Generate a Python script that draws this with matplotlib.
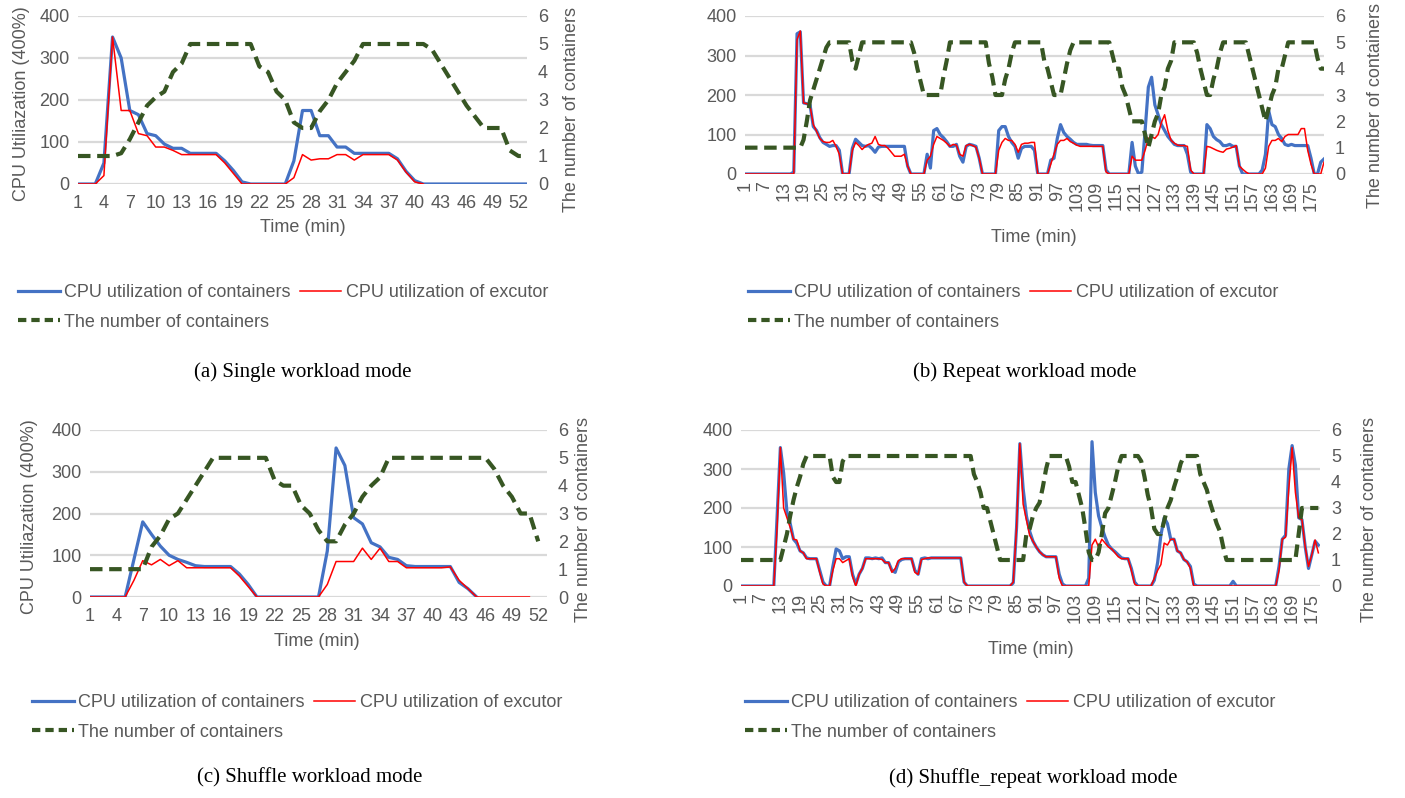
import matplotlib
matplotlib.use("Agg")
import matplotlib.pyplot as plt
from matplotlib.lines import Line2D
import numpy as np

# ---------------- data ----------------
# (a) Single workload mode, minutes 1..53
blue_a = [0, 0, 0, 50, 350, 300, 175, 165, 120, 115, 95, 85, 85, 73, 73, 73, 73, 55, 32, 5,
          0, 0, 0, 0, 0, 55, 175, 175, 115, 115, 88, 88, 73, 73, 73, 73, 73, 60, 30, 8,
          0, 0, 0, 0, 0, 0, 0, 0, 0, 0, 0, 0, 0]
red_a = [0, 0, 0, 20, 350, 175, 175, 120, 115, 88, 88, 80, 70, 70, 70, 70, 70, 50, 25, 0,
         0, 0, 0, 0, 0, 15, 70, 57, 60, 60, 70, 70, 57, 70, 70, 70, 70, 57, 28, 5, 0]
green_a = [1, 1, 1, 1, 1, 1.1, 1.6, 2.2, 2.8, 3.1, 3.3, 4, 4.3, 5, 5, 5, 5, 5, 5, 5,
           5, 4.2, 4, 3.3, 3, 2.2, 2, 2, 2.6, 3, 3.6, 4, 4.4, 5, 5, 5, 5, 5, 5, 5,
           5, 4.8, 4.3, 3.8, 3.3, 2.8, 2.4, 2, 2, 2, 1.2, 1, 1]

# (b) Repeat workload mode, minutes 1..179
blue_b = ([0] * 15
          + [5, 355, 360, 180, 178, 175, 120, 110, 92, 80, 75, 70, 72, 72, 60]
          + [0, 0, 0]
          + [65, 88, 80, 72, 70, 72, 65, 55, 68, 70]
          + [70] * 7
          + [20, 0, 0, 0, 0, 0]
          + [50, 15, 110, 115, 100, 92, 82, 70, 70, 75, 45, 30, 70, 75, 73, 70, 40]
          + [0] * 5
          + [110, 120, 120, 95, 80, 70, 40, 65, 70, 70, 70, 60]
          + [0] * 4
          + [35, 40, 90, 125, 105, 95, 88, 80, 75, 75, 75, 75, 73, 72, 72, 72, 72, 10]
          + [0] * 7
          + [80, 20, 0, 5, 110, 220, 245, 175, 150, 125, 110, 95, 85, 75, 72, 72, 72, 50, 5]
          + [0] * 4
          + [125, 115, 95, 87, 82, 72, 72, 75, 70, 70, 20]
          + [0] * 6
          + [10, 50, 160, 125, 120, 100, 90, 75, 72, 75, 72, 72, 72, 72, 72, 40, 0, 0, 30, 38])
red_b = ([0] * 16
         + [340, 362, 180, 178, 172, 125, 108, 90, 82, 80, 80, 85, 70, 50]
         + [0, 0, 0]
         + [60, 80, 72, 62, 70, 75, 78, 95, 75, 72, 72, 65, 55, 45, 45, 45, 50, 20]
         + [0] * 5
         + [35, 45, 75, 95, 90, 85, 78, 70, 75, 73, 50, 45, 72, 75, 72, 68, 40]
         + [0] * 5
         + [60, 80, 90, 85, 85, 75, 55, 75, 78, 78, 80, 80]
         + [0] * 4
         + [25, 50, 75, 85, 85, 90, 82, 78, 73, 70, 70, 70, 70, 70, 70, 70, 70, 5]
         + [0] * 7
         + [45, 35, 35, 35, 60, 90, 95, 90, 100, 130, 150, 110, 85, 78, 73, 72, 72, 70, 10]
         + [0] * 4
         + [70, 68, 64, 60, 57, 55, 63, 65, 68, 72, 20, 12, 5]
         + [0] * 5
         + [15, 70, 85, 85, 90, 82, 95, 100, 100, 100, 100, 115, 115, 60, 25, 0, 0, 0, 30])
green_b = ([1] * 18
           + [1.3, 2, 2.8, 3.2, 3.6, 4, 4.4, 4.8]
           + [5] * 7
           + [4.3, 4, 4.5]
           + [5] * 16
           + [4.6, 4, 3.5]
           + [3] * 6
           + [3.7, 4.3]
           + [5] * 12
           + [4.2, 3.7]
           + [3] * 3
           + [3.6, 4, 4.6]
           + [5] * 9
           + [4.3, 4, 3.5]
           + [3] * 3
           + [3.6, 4.2, 4.7]
           + [5] * 12
           + [4.5, 4, 4, 3.3, 3, 2.5]
           + [2] * 4
           + [1.5, 1, 1.5, 2, 2.3, 3, 3.3, 4, 4.3]
           + [5] * 7
           + [4.6, 4, 3.5]
           + [3, 3]
           + [3.6, 4, 4.6]
           + [5] * 8
           + [4.5, 4, 3.5, 3, 2.5, 2, 2.5, 3, 3.3, 4, 4, 4.5]
           + [5] * 9
           + [4.4, 4, 4])

# (c) Shuffle workload mode, minutes 1..52
blue_c = [0, 0, 0, 0, 0, 90, 180, 150, 122, 100, 90, 83, 75, 73, 73, 73, 73, 55, 30, 0,
          0, 0, 0, 0, 0, 0, 0, 110, 357, 315, 190, 175, 130, 120, 95, 90, 75, 73, 73, 73,
          73, 73, 35, 20, 0]
red_c = [0, 0, 0, 0, 0, 40, 87, 77, 90, 75, 87, 70, 70, 70, 70, 70, 70, 50, 25, 0,
         0, 0, 0, 0, 0, 0, 0, 30, 85, 85, 85, 117, 90, 117, 85, 85, 70, 70, 70, 70,
         70, 72, 40, 20, 0, 0, 0, 0, 0, 0, 0]
green_c = [1, 1, 1, 1, 1, 1, 1, 1.8, 2.2, 2.8, 3, 3.5, 4, 4.5, 5, 5, 5, 5, 5, 5,
           5, 4.2, 4, 4, 3.3, 3, 2.4, 2, 2, 2.6, 3, 3.6, 4, 4.3, 5, 5, 5, 5, 5, 5,
           5, 5, 5, 5, 5, 5, 4.6, 4, 3.6, 3, 3, 2]

# (d) Shuffle_repeat workload mode, minutes 1..177
blue_d = ([0] * 11
          + [180, 355, 290, 190, 160, 120, 110, 90, 85, 72, 70, 70, 70, 40, 10]
          + [0, 0]
          + [50, 95, 90, 70, 75, 75, 30, 5, 30, 45, 72, 72, 70, 72, 70, 72, 60, 60, 40, 35,
             62, 68, 70, 70, 70, 40, 30, 70, 72, 70, 72]
          + [72] * 9
          + [10]
          + [0] * 14
          + [8, 150, 365, 250, 180, 140, 115, 100, 88, 80, 75, 75, 75, 75, 30, 5]
          + [0] * 7
          + [20, 370, 240, 180, 150, 125, 105, 95, 88, 80, 72, 70, 70, 45, 10]
          + [0] * 5
          + [15, 60, 130, 175, 160, 120, 120, 90, 85, 68, 62, 50, 5]
          + [0] * 11
          + [12]
          + [0] * 13
          + [50, 120, 130, 300, 360, 310, 175, 170, 100, 45, 80, 115, 105])
red_d = ([0] * 11
         + [150, 355, 200, 175, 150, 120, 118, 90, 85, 70, 70, 70, 70, 35, 5]
         + [0, 0]
         + [40, 70, 70, 60, 65, 70, 25, 0, 30, 45, 70, 70, 70, 70, 70, 68, 60, 60, 35, 45,
            65, 70, 70, 70, 70, 35, 30, 68, 70, 72, 72]
         + [72] * 9
         + [10]
         + [0] * 14
         + [10, 150, 365, 210, 170, 130, 115, 100, 88, 80, 75, 75, 75, 75, 20, 0]
         + [0] * 8
         + [105, 120, 100, 120, 110, 100, 95, 85, 75, 70, 70, 70, 40, 5]
         + [0] * 5
         + [20, 40, 55, 110, 105, 120, 120, 90, 85, 68, 62, 45, 0]
         + [0] * 25
         + [40, 120, 125, 250, 355, 240, 175, 170, 100, 50, 80, 118, 85])
green_d = ([1] * 13
           + [1.5, 2, 2.7, 3.3, 3.8, 4.2, 4.7]
           + [5] * 8
           + [4.2, 4, 4, 4.8]
           + [5] * 39
           + [4.3, 4, 3.6, 3, 3, 2.5, 2, 1.5]
           + [1] * 8
           + [2, 2.2, 2.7, 3, 3.2, 3.8, 4.5]
           + [5] * 6
           + [4.6, 4, 4, 3.5, 3, 2.2, 1.3, 1, 1, 1.3, 2, 2.8, 3, 3.5, 4, 4.6]
           + [5] * 6
           + [4.8, 4.2, 3.5, 3, 2.2, 2, 2, 2.5, 3, 3.3, 3.8, 4.2, 4.7]
           + [5] * 5
           + [4.3, 4, 3.7, 3.2, 2.8, 2.4, 2.1, 1.5]
           + [1] * 22
           + [2, 3, 3, 3, 3, 3, 3])

ticks_ab = list(range(1, 53, 3))
ticks_long = list(range(1, 176, 6))
y_ticks = [0, 100, 200, 300, 400]
n_ticks = [0, 1, 2, 3, 4, 5, 6]

label_blue = "CPU utilization of containers"
label_red = "CPU utilization of excutor"
label_green = "The number of containers"
ylabel_left = "CPU Utiliazation (400%)"
xlabel = "Time (min)"
captions = ["(a) Single workload mode", "(b) Repeat workload mode",
            "(c) Shuffle workload mode", "(d) Shuffle_repeat workload mode"]

# ---------------- style ----------------
W, H = 1405, 798
BLUE = "#4472C4"
RED = "#FF0000"
GREEN = "#375623"
GRAY = "#595959"
GRIDC = "#D9D9D9"
FONT = "Liberation Sans"
plt.rcParams["font.family"] = [FONT, "DejaVu Sans"]
TICK_FS = 13
LAB_FS = 13
LEG_FS = 13

fig = plt.figure(figsize=(W / 100, H / 100), dpi=100)


def px_rect(l, r, t, b):
    return [l / W, 1 - b / H, (r - l) / W, (b - t) / H]


def panel(rect, xmax, blue, red, green, xticks, rotate):
    ax = fig.add_axes(rect)
    ax.set_xlim(1, xmax)
    ax.set_ylim(0, 400)
    ax.set_yticks(y_ticks)
    ax.yaxis.grid(True, color=GRIDC, linewidth=1.6)
    ax.set_axisbelow(True)
    for s in ax.spines.values():
        s.set_visible(False)
    ax.plot(np.arange(1, len(blue) + 1), blue, color=BLUE, linewidth=2.3, zorder=3)
    ax.plot(np.arange(1, len(red) + 1), red, color=RED, linewidth=1.1, zorder=4)
    ax.set_xticks(xticks)
    ax.set_xticklabels([str(t) for t in xticks], rotation=90 if rotate else 0)
    ax.tick_params(axis="both", length=0, colors=GRAY, labelsize=TICK_FS)
    ax.tick_params(axis="x", pad=8 if not rotate else 5)
    ax.tick_params(axis="y", pad=6)
    ax2 = ax.twinx()
    ax2.set_ylim(0, 6)
    ax2.set_yticks(n_ticks)
    for s in ax2.spines.values():
        s.set_visible(False)
    ax2.tick_params(axis="y", length=0, colors=GRAY, labelsize=TICK_FS, pad=8)
    ax2.plot(np.arange(1, len(green) + 1), green, color=GREEN, linewidth=3.0,
             dashes=(3, 1.6), zorder=5)
    return ax


def legend(x, y):
    hb = Line2D([], [], color=BLUE, linewidth=2.3)
    hr = Line2D([], [], color=RED, linewidth=1.1)
    hg = Line2D([], [], color=GREEN, linewidth=3.0, dashes=(2, 1.2))
    lg = fig.legend(handles=[hb, hg, hr], labels=[label_blue, label_green, label_red],
                    ncol=2, loc="upper left", bbox_to_anchor=(x / W, 1 - y / H),
                    frameon=False, fontsize=LEG_FS, handlelength=2.3, handletextpad=0.25,
                    columnspacing=0.5, labelspacing=0.7, borderpad=0, borderaxespad=0)
    for t in lg.get_texts():
        t.set_color(GRAY)


# (a)
panel(px_rect(78, 527, 16, 184), 53, blue_a, red_a, green_a, ticks_ab, False)
fig.text(22 / W, 1 - 104 / H, ylabel_left, rotation=90, ha="center", va="center",
         color=GRAY, fontsize=LAB_FS)
fig.text(571 / W, 1 - 110 / H, label_green, rotation=90, ha="center", va="center",
         color=GRAY, fontsize=LAB_FS)
fig.text(303 / W, 1 - 228 / H, xlabel, ha="center", va="center", color=GRAY, fontsize=LAB_FS)
legend(18, 284)

# (b)
panel(px_rect(745, 1324, 16, 174), 179, blue_b, red_b, green_b, ticks_long, True)
fig.text(1375 / W, 1 - 105 / H, label_green, rotation=90, ha="center", va="center",
         color=GRAY, fontsize=LAB_FS)
fig.text(1034 / W, 1 - 238 / H, xlabel, ha="center", va="center", color=GRAY, fontsize=LAB_FS)
legend(748, 284)

# (c)
panel(px_rect(90, 547, 430, 597), 53, blue_c, red_c, green_c, ticks_ab, False)
fig.text(30 / W, 1 - 517 / H, ylabel_left, rotation=90, ha="center", va="center",
         color=GRAY, fontsize=LAB_FS)
fig.text(584 / W, 1 - 520 / H, label_green, rotation=90, ha="center", va="center",
         color=GRAY, fontsize=LAB_FS)
fig.text(317 / W, 1 - 641 / H, xlabel, ha="center", va="center", color=GRAY, fontsize=LAB_FS)
legend(32, 694)

# (d)
panel(px_rect(741, 1320, 430, 586), 177.5, blue_d, red_d, green_d, ticks_long, True)
fig.text(1370 / W, 1 - 520 / H, label_green, rotation=90, ha="center", va="center",
         color=GRAY, fontsize=LAB_FS)
fig.text(1031 / W, 1 - 649 / H, xlabel, ha="center", va="center", color=GRAY, fontsize=LAB_FS)
legend(745, 694)

# captions
for (cx, cy), cap in zip([(303, 372), (1025, 372), (310, 778), (1033, 778)], captions):
    fig.text(cx / W, 1 - cy / H, cap, ha="center", va="center", color="black",
             fontsize=15, family="Liberation Serif")

fig.savefig("out.png", dpi=100)
